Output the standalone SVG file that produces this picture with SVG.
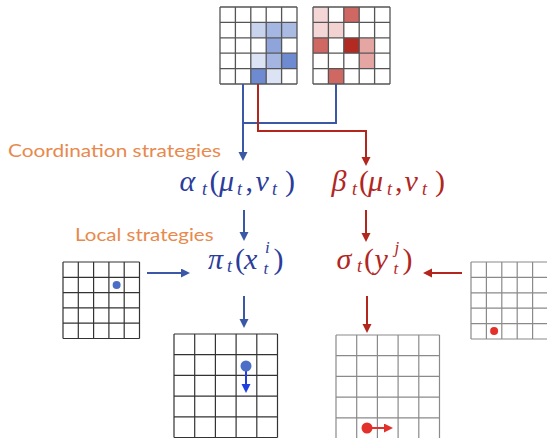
<svg xmlns="http://www.w3.org/2000/svg" width="547" height="438" viewBox="0 0 547 438">
<style>
.gd{fill:none;stroke:#555;stroke-width:1.3}
.gk{fill:none;stroke:#333;stroke-width:1.2}
.gl{fill:none;stroke:#8a8a8a;stroke-width:1.2}
.cb{fill:none;stroke:#3a58a6;stroke-width:2}
.cr{fill:none;stroke:#b3261e;stroke-width:2}
.lbl{font-family:Lato,"Open Sans","Liberation Sans",sans-serif;fill:#e8894d;font-size:16.5px}
.m{font-family:"Liberation Serif","DejaVu Serif",serif;font-style:italic;font-size:30px}
.mb{fill:#2b3c9b}
.mr{fill:#b1271f}
.s{font-size:18px}
.ss{font-size:17px}
.u{font-style:normal}
</style>
<defs>
<marker id="ab" markerUnits="userSpaceOnUse" markerWidth="10" markerHeight="10" refX="3" refY="4.5" orient="auto"><path d="M0,0 L9,4.5 L0,9 z" fill="#3a58a6"/></marker>
<marker id="ar" markerUnits="userSpaceOnUse" markerWidth="10" markerHeight="10" refX="3" refY="4.5" orient="auto"><path d="M0,0 L9,4.5 L0,9 z" fill="#b3261e"/></marker>
<marker id="abb" markerUnits="userSpaceOnUse" markerWidth="10" markerHeight="10" refX="3" refY="4.5" orient="auto"><path d="M0,0 L9,4.5 L0,9 z" fill="#1f3fe0"/></marker>
<marker id="arr" markerUnits="userSpaceOnUse" markerWidth="10" markerHeight="10" refX="3" refY="4.5" orient="auto"><path d="M0,0 L9,4.5 L0,9 z" fill="#e2302a"/></marker>
</defs>

<g id="grid-blue-top">
<rect x="250.8" y="22.4" width="15.4" height="15.4" fill="#c8d3ee"/>
<rect x="266.2" y="22.4" width="15.4" height="15.4" fill="#a4b6e2"/>
<rect x="281.6" y="22.4" width="15.4" height="15.4" fill="#a9bae3"/>
<rect x="266.2" y="37.8" width="15.4" height="15.4" fill="#8ea4da"/>
<rect x="250.8" y="53.2" width="15.4" height="15.4" fill="#dce3f4"/>
<rect x="266.2" y="53.2" width="15.4" height="15.4" fill="#a3b5e0"/>
<rect x="281.6" y="53.2" width="15.4" height="15.4" fill="#6e8ad0"/>
<rect x="250.8" y="68.6" width="15.4" height="15.4" fill="#6e8ad0"/>
<rect x="266.2" y="68.6" width="15.4" height="15.4" fill="#dce3f4"/>
<path class="gd" d="M220,7H297M220,22.4H297M220,37.8H297M220,53.2H297M220,68.6H297M220,84H297M220,7V84M235.4,7V84M250.8,7V84M266.2,7V84M281.6,7V84M297,7V84"/>
</g>

<g id="grid-red-top">
<rect x="313" y="7" width="15.4" height="15.4" fill="#f3d6d5"/>
<rect x="343.8" y="7" width="15.4" height="15.4" fill="#cf6762"/>
<rect x="313" y="22.4" width="15.4" height="15.4" fill="#f3d6d5"/>
<rect x="328.4" y="22.4" width="15.4" height="15.4" fill="#f2d3d2"/>
<rect x="313" y="37.8" width="15.4" height="15.4" fill="#cf6762"/>
<rect x="343.8" y="37.8" width="15.4" height="15.4" fill="#b22a21"/>
<rect x="359.2" y="37.8" width="15.4" height="15.4" fill="#e5a6a3"/>
<rect x="359.2" y="53.2" width="15.4" height="15.4" fill="#e5a6a3"/>
<rect x="328.4" y="68.6" width="15.4" height="15.4" fill="#cf6762"/>
<path class="gd" d="M313,7H390M313,22.4H390M313,37.8H390M313,53.2H390M313,68.6H390M313,84H390M313,7V84M328.4,7V84M343.8,7V84M359.2,7V84M374.6,7V84M390,7V84"/>
</g>

<g id="connectors">
<path class="cb" d="M336,84V123H243"/>
<path class="cb" d="M243,84V155" marker-end="url(#ab)"/>
<path class="cr" d="M258,84V131H366V160" marker-end="url(#ar)"/>
<path class="cb" d="M244,210V235" marker-end="url(#ab)"/>
<path class="cr" d="M366,210V236" marker-end="url(#ar)"/>
<path class="cb" d="M147,273H184" marker-end="url(#ab)"/>
<path class="cr" d="M462,273H429" marker-end="url(#ar)"/>
<path class="cb" d="M244,296V322" marker-end="url(#ab)"/>
<path class="cr" d="M367,296V327" marker-end="url(#ar)"/>
</g>

<g id="label-coordination">
<text class="lbl" x="8" y="157" textLength="213" lengthAdjust="spacingAndGlyphs">Coordination strategies</text>
</g>
<g id="label-local">
<text class="lbl" x="75" y="240.5" textLength="138.6" lengthAdjust="spacingAndGlyphs">Local strategies</text>
</g>

<g id="node-alpha">
<text class="m mb"><tspan x="179.5" y="191">α</tspan><tspan class="s" x="202" y="195">t</tspan><tspan class="u" x="209.5" y="191">(</tspan><tspan x="219" y="191">μ</tspan><tspan class="s" x="237" y="195">t</tspan><tspan class="u" x="245.5" y="191">,</tspan><tspan x="255.5" y="191">ν</tspan><tspan class="s" x="272" y="195">t</tspan><tspan class="u" x="285" y="191">)</tspan></text>
</g>
<g id="node-beta">
<text class="m mr"><tspan x="331.5" y="191">β</tspan><tspan class="s" x="352" y="195">t</tspan><tspan class="u" x="359" y="191">(</tspan><tspan x="368" y="191">μ</tspan><tspan class="s" x="387" y="195">t</tspan><tspan class="u" x="395" y="191">,</tspan><tspan x="404.5" y="191">ν</tspan><tspan class="s" x="422" y="195">t</tspan><tspan class="u" x="435" y="191">)</tspan></text>
</g>
<g id="node-pi">
<text class="m mb"><tspan x="208" y="268.5">π</tspan><tspan class="s" x="227" y="272">t</tspan><tspan class="u" x="235" y="268.5">(</tspan><tspan x="244" y="268.5">x</tspan><tspan class="ss" x="265" y="253">i</tspan><tspan class="ss" x="263.5" y="273.5">t</tspan><tspan class="u" x="273.5" y="268.5">)</tspan></text>
</g>
<g id="node-sigma">
<text class="m mr"><tspan x="336.5" y="268.5">σ</tspan><tspan class="s" x="357" y="272">t</tspan><tspan class="u" x="364" y="268.5">(</tspan><tspan x="374.5" y="268.5">y</tspan><tspan class="ss" x="394.5" y="252.5">j</tspan><tspan class="ss" x="393.5" y="273.5">t</tspan><tspan class="u" x="402.5" y="268.5">)</tspan></text>
</g>

<g id="grid-left">
<path class="gk" d="M63,262H139.5M63,277.3H139.5M63,292.6H139.5M63,307.9H139.5M63,323.2H139.5M63,338.5H139.5M63,262V338.5M78.3,262V338.5M93.6,262V338.5M108.9,262V338.5M124.2,262V338.5M139.5,262V338.5"/>
<circle cx="116.6" cy="285" r="4" fill="#4a6fc4"/>
</g>

<g id="grid-right">
<path class="gl" d="M471,262H548M471,277.4H548M471,292.8H548M471,308.2H548M471,323.6H548M471,339H548M471,262V339M486.4,262V339M501.8,262V339M517.2,262V339M532.6,262V339"/>
<circle cx="494.1" cy="331" r="4" fill="#e2302a"/>
</g>

<g id="grid-bottom-left">
<path class="gk" d="M174,334H277.5M174,354.7H277.5M174,375.4H277.5M174,396.1H277.5M174,416.8H277.5M174,437.5H277.5M174,334V437.5M194.7,334V437.5M215.4,334V437.5M236.1,334V437.5M256.8,334V437.5M277.5,334V437.5"/>
<path d="M246,366V387" stroke="#1f3fe0" stroke-width="2" fill="none" marker-end="url(#abb)"/>
<circle cx="246" cy="366" r="5.5" fill="#4d6ec6"/>
</g>

<g id="grid-bottom-right">
<path class="gl" d="M336,335H439.5M336,355.7H439.5M336,376.4H439.5M336,397.1H439.5M336,417.8H439.5M336,438.5H439.5M336,335V438.5M356.7,335V438.5M377.4,335V438.5M398.1,335V438.5M418.8,335V438.5M439.5,335V438.5"/>
<path d="M367,428H387" stroke="#e2302a" stroke-width="2" fill="none" marker-end="url(#arr)"/>
<circle cx="367" cy="428" r="5.5" fill="#e2302a"/>
</g>
</svg>
